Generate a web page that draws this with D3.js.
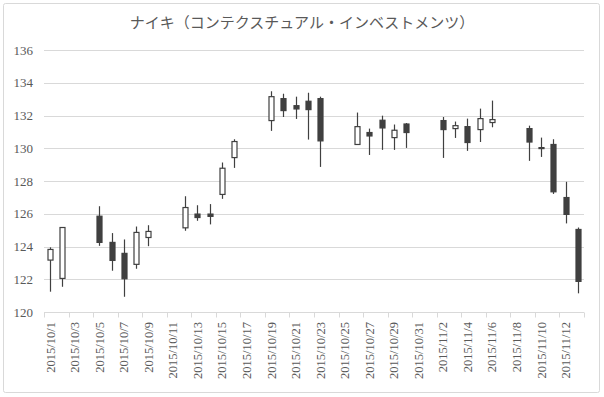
<!DOCTYPE html>
<html>
<head>
<meta charset="utf-8">
<script src="https://cdn.jsdelivr.net/npm/d3@7"></script>
<style>
  body { margin: 0; background: #fff; }
  svg { display: block; }
</style>
</head>
<body>
<svg id="chart" width="604" height="397"></svg>
<script>
// trading days and OHLC values
var dates = ["2015-10-01","2015-10-02","2015-10-05","2015-10-06","2015-10-07","2015-10-08","2015-10-09",
             "2015-10-12","2015-10-13","2015-10-14","2015-10-15","2015-10-16",
             "2015-10-19","2015-10-20","2015-10-21","2015-10-22","2015-10-23",
             "2015-10-26","2015-10-27","2015-10-28","2015-10-29","2015-10-30",
             "2015-11-02","2015-11-03","2015-11-04","2015-11-05","2015-11-06",
             "2015-11-09","2015-11-10","2015-11-11","2015-11-12","2015-11-13"];
var open  = [123.17,122.05,125.85,124.25,123.58,122.91,124.55,
             125.14,125.98,125.98,127.18,129.43,
             131.69,133.03,132.60,132.87,133.03,
             130.23,130.96,131.71,130.65,131.48,
             131.69,131.20,131.32,131.14,131.57,
             131.20,130.04,130.23,126.99,125.04];
var high  = [123.95,125.16,126.46,124.82,124.43,125.22,125.30,
             127.07,126.52,126.59,129.13,130.55,
             133.48,133.33,133.15,133.39,133.15,
             132.18,131.20,131.99,131.45,131.54,
             131.91,131.63,131.81,132.42,132.91,
             131.38,130.65,130.55,127.95,125.16];
var low   = [121.24,121.54,124.04,122.52,120.93,122.64,124.02,
             124.96,125.57,125.35,126.91,128.80,
             131.06,131.91,131.79,130.53,128.86,
             130.23,129.59,129.90,129.90,130.02,
             129.41,130.63,129.84,130.38,131.28,
             129.23,129.47,127.21,125.41,121.14];
var close = [123.82,125.16,124.25,123.15,122.03,124.86,124.92,
             126.38,125.77,125.84,128.78,130.41,
             133.15,132.30,132.40,132.36,130.45,
             131.32,130.75,131.24,131.10,130.96,
             131.14,131.38,130.35,131.81,131.75,
             130.38,129.98,127.34,125.96,121.87];
var yTicks = [120,122,124,126,128,130,132,134,136];
var title = "ナイキ（コンテクスチュアル・インベストメンツ）";

var parse = d3.timeParse("%Y-%m-%d");
var fmt = function(d){ return d.getFullYear() + "/" + (d.getMonth()+1) + "/" + d.getDate(); };

var candles = dates.map(function(s, i){
  return { date: parse(s), o: open[i], h: high[i], l: low[i], c: close[i] };
});

// axis days (calendar days, one slot each)
var start = parse("2015-10-01"), end = parse("2015-11-14");
var days = d3.timeDay.range(start, end);

var svg = d3.select("#chart");
var textColor = "#595959", gridColor = "#d9d9d9", candleColor = "#404040";

svg.append("rect")
   .attr("x", 3.5).attr("y", 3.5).attr("width", 596).attr("height", 389)
   .attr("fill", "#fff").attr("stroke", gridColor).attr("rx", 2);

var x = d3.scaleTime().domain([start, end]).range([44, 584]);
var y = d3.scaleLinear().domain([120, 136]).range([312, 50]);
var halfDay = (x(d3.timeDay.offset(start, 1)) - x(start)) / 2;

// title
svg.append("text")
   .attr("x", 302).attr("y", 28)
   .attr("text-anchor", "middle")
   .attr("font-family", "'Noto Sans CJK JP', sans-serif")
   .attr("font-size", 15)
   .attr("fill", textColor)
   .text(title);

// gridlines
svg.selectAll(".grid")
   .data(yTicks.filter(function(d){ return d > 120; }))
   .enter().append("line")
   .attr("x1", 44).attr("x2", 584)
   .attr("y1", function(d){ return Math.round(y(d)) + 0.5; })
   .attr("y2", function(d){ return Math.round(y(d)) + 0.5; })
   .attr("stroke", gridColor);

// y labels
svg.selectAll(".ylab")
   .data(yTicks)
   .enter().append("text")
   .attr("x", 33)
   .attr("y", function(d){ return y(d) + 4.5; })
   .attr("text-anchor", "end")
   .attr("font-family", "'Liberation Serif', serif")
   .attr("font-size", 13)
   .attr("fill", textColor)
   .text(function(d){ return d; });

// x axis line and ticks
var axisY = Math.round(y(120)) + 0.5;
svg.append("line")
   .attr("x1", 44).attr("x2", 584)
   .attr("y1", axisY).attr("y2", axisY)
   .attr("stroke", gridColor);

var tickDays = days.filter(function(d, i){ return i % 2 == 0; }).concat([end]);
svg.selectAll(".xtick")
   .data(tickDays)
   .enter().append("line")
   .attr("x1", function(d){ return Math.round(x(d)) + 0.5; })
   .attr("x2", function(d){ return Math.round(x(d)) + 0.5; })
   .attr("y1", axisY).attr("y2", axisY + 5)
   .attr("stroke", gridColor);

// x labels, rotated
svg.selectAll(".xlab")
   .data(days.filter(function(d, i){ return i % 2 == 0; }))
   .enter().append("text")
   .attr("transform", function(d){
     return "translate(" + (x(d) + halfDay + 4.5) + "," + 322 + ") rotate(-90)";
   })
   .attr("text-anchor", "end")
   .attr("font-family", "'Liberation Serif', serif")
   .attr("font-size", 12.5)
   .attr("fill", textColor)
   .text(fmt);

// candles
var g = svg.append("g");
var cx = function(d){ return Math.round(x(d.date) + halfDay) + 0.5; };

g.selectAll(".wick")
 .data(candles)
 .enter().append("line")
 .attr("x1", cx).attr("x2", cx)
 .attr("y1", function(d){ return y(d.h); })
 .attr("y2", function(d){ return y(d.l); })
 .attr("stroke", candleColor)
 .attr("stroke-width", 1.2);

g.selectAll(".body")
 .data(candles)
 .enter().append("rect")
 .attr("x", function(d){ return cx(d) - 2.5; })
 .attr("width", 5)
 .attr("y", function(d){ return y(Math.max(d.o, d.c)); })
 .attr("height", function(d){ return Math.max(1, Math.abs(y(d.o) - y(d.c))); })
 .attr("fill", function(d){ return d.c >= d.o ? "#fff" : candleColor; })
 .attr("stroke", candleColor)
 .attr("stroke-width", 1.2);
</script>
</body>
</html>
